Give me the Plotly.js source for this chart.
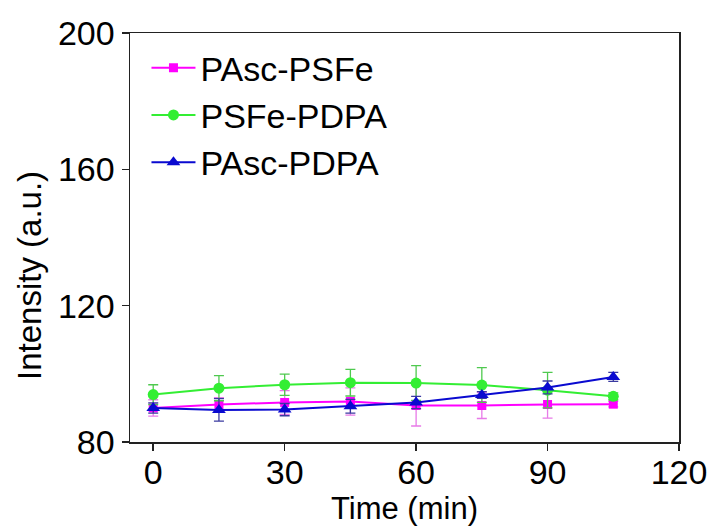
<!DOCTYPE html>
<html>
<head>
<meta charset="utf-8">
<script src="https://cdn.plot.ly/plotly-3.0.1.min.js"></script>
<style>html,body{margin:0;padding:0;background:#fff;}#chart{width:712px;height:528px;}</style>
</head>
<body>
<div id="chart"></div>
<script>
const time = [0, 15, 30, 45, 60, 75, 90, 105];
const seriesNames = ["PAsc-PSFe", "PSFe-PDPA", "PAsc-PDPA"];
const pascPsfe = [90.0, 91.0, 91.6, 91.9, 90.7, 90.7, 91.0, 91.1];
const pascPsfeErr = [2.4, 2.0, 3.5, 4.0, 6.0, 3.8, 4.0, 0.8];
const psfePdpa = [93.9, 95.8, 96.8, 97.4, 97.3, 96.7, 95.2, 93.4];
const psfePdpaErr = [2.9, 3.7, 3.1, 3.9, 5.1, 5.1, 5.2, 1.0];
const pascPdpa = [90.0, 89.4, 89.5, 90.5, 91.6, 93.8, 96.0, 99.1];
const pascPdpaErr = [1.5, 3.3, 1.8, 2.0, 1.8, 1.0, 1.9, 1.3];
const xTicks = [0, 30, 60, 90, 120];
const yTicks = [80, 120, 160, 200];
const xTitle = 'Time (min)';
const yTitle = 'Intensity (a.u.)';

const F = '"Liberation Sans", Arial, sans-serif';
function tr(name, y, err, color, errColor, symbol, size, group) {
  return {
    x: time, y: y, name: name, type: 'scatter', mode: 'lines+markers',
    legendgroup: group,
    line: {color: color, width: 2},
    marker: {color: color, symbol: symbol, size: size},
    error_y: {type: 'data', array: err, visible: true, color: errColor, thickness: 1.3, width: 5}
  };
}
const data = [
  tr(seriesNames[0], pascPsfe, pascPsfeErr, '#ff00ff', '#e87ae8', 'square', 9, 'a'),
  tr(seriesNames[1], psfePdpa, psfePdpaErr, '#33ee33', '#4fc94f', 'circle', 11, 'b'),
  tr(seriesNames[2], pascPdpa, pascPdpaErr, '#0a0ad0', '#3a3aa0', 'triangle-up', 12, 'c')
];
const layout = {
  width: 712, height: 528,
  margin: {l: 130, r: 33, t: 33, b: 86},
  paper_bgcolor: '#fff', plot_bgcolor: '#fff',
  font: {family: F, color: '#000'},
  showlegend: true,
  legend: {x: 0.03, y: 0.985, xanchor: 'left', yanchor: 'top', bgcolor: 'rgba(0,0,0,0)',
           font: {size: 34, family: F}, traceorder: 'grouped', tracegroupgap: 0, itemwidth: 44},
  xaxis: {
    range: [-5.3, 120], tickvals: xTicks, ticktext: xTicks.map(String),
    ticks: 'outside', ticklen: 7, tickwidth: 1.5, tickcolor: '#222',
    showline: true, linecolor: '#222', linewidth: 1.5, mirror: true,
    showgrid: false, zeroline: false, ticklabelstandoff: -7,
    tickfont: {size: 34, family: F},
    title: {text: xTitle, font: {size: 31, family: F}, standoff: 6}
  },
  yaxis: {
    range: [80, 200], tickvals: yTicks, ticktext: yTicks.map(String),
    ticks: 'outside', ticklen: 7, tickwidth: 1.5, tickcolor: '#222',
    showline: true, linecolor: '#222', linewidth: 1.5, mirror: true,
    showgrid: false, zeroline: false,
    tickfont: {size: 34, family: F}
  },
  annotations: [{
    text: yTitle, textangle: -90, showarrow: false,
    xref: 'paper', yref: 'paper', x: (29 - 130) / 549, y: (442 - 276) / 409,
    xanchor: 'center', yanchor: 'middle',
    font: {size: 33, family: F, color: '#000'}
  }]
};
Plotly.newPlot('chart', data, layout, {displayModeBar: false, staticPlot: true});
</script>
</body>
</html>
